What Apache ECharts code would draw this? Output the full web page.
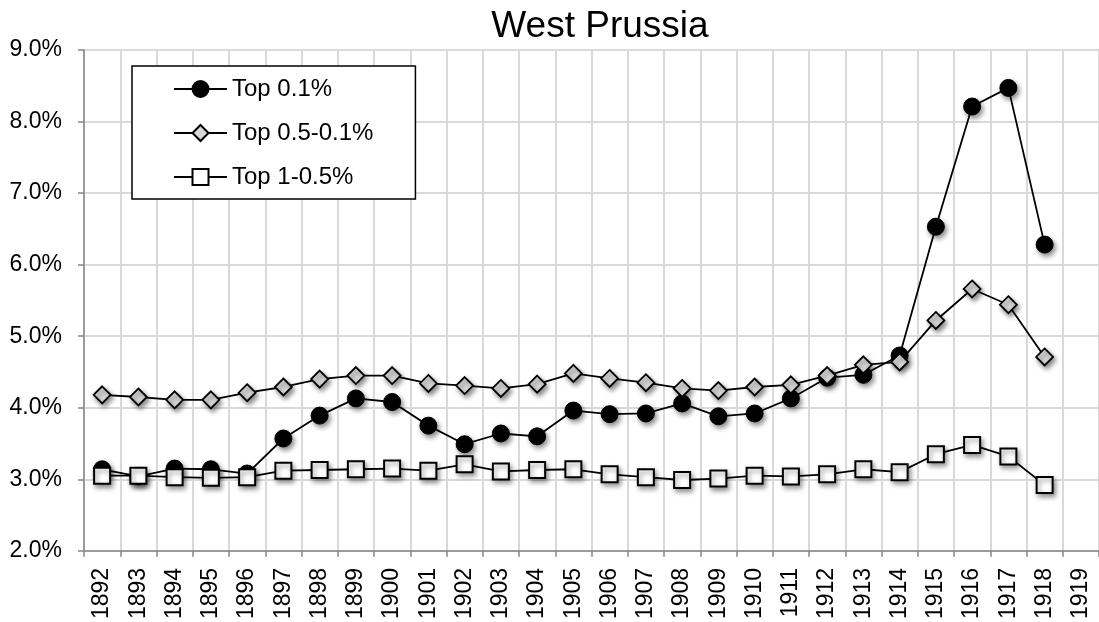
<!DOCTYPE html>
<html>
<head>
<meta charset="utf-8">
<script src="https://cdn.jsdelivr.net/npm/echarts@6/dist/echarts.min.js"></script>
<style>
html,body{margin:0;padding:0;background:#fff;}
#chart{width:1099px;height:622px;}
</style>
</head>
<body>
<div id="chart"></div>
<script>
const years = ['1892','1893','1894','1895','1896','1897','1898','1899','1900','1901','1902','1903','1904','1905','1906','1907','1908','1909','1910','1911','1912','1913','1914','1915','1916','1917','1918','1919'];
const top01 = [3.14, 3.04, 3.15, 3.14, 3.08, 3.57, 3.89, 4.13, 4.08, 3.75, 3.49, 3.64, 3.60, 3.96, 3.91, 3.92, 4.06, 3.88, 3.92, 4.13, 4.42, 4.46, 4.73, 6.53, 8.21, 8.47, 6.28, null];
const top05_01 = [4.18, 4.15, 4.11, 4.11, 4.21, 4.29, 4.40, 4.45, 4.45, 4.34, 4.31, 4.27, 4.33, 4.48, 4.41, 4.35, 4.27, 4.24, 4.29, 4.32, 4.45, 4.60, 4.64, 5.22, 5.66, 5.44, 4.71, null];
const top1_05 = [3.05, 3.05, 3.03, 3.02, 3.03, 3.12, 3.13, 3.14, 3.15, 3.12, 3.21, 3.11, 3.13, 3.14, 3.07, 3.03, 2.99, 3.01, 3.05, 3.04, 3.07, 3.14, 3.10, 3.35, 3.48, 3.32, 2.92, null];
const seriesNames = ['Top 0.1%', 'Top 0.5-0.1%', 'Top 1-0.5%'];
const yTicks = [2, 3, 4, 5, 6, 7, 8, 9];

const FONT = '"Liberation Sans", Arial, sans-serif';
const shadow = {shadowColor: 'rgba(0,0,0,0.45)', shadowBlur: 5, shadowOffsetX: 2, shadowOffsetY: 3};

const chart = echarts.init(document.getElementById('chart'), null, {renderer: 'canvas'});
chart.setOption({
  animation: false,
  backgroundColor: '#ffffff',
  title: {
    text: 'West Prussia',
    left: 595, top: 3, textAlign: 'center',
    textStyle: {fontFamily: FONT, fontSize: 37, fontWeight: 'normal', color: '#000'}
  },
  grid: {left: 84, right: -4, top: 50, bottom: 69, containLabel: false},
  legend: {
    orient: 'vertical',
    left: 132, top: 66,
    padding: [11, 42, 10, 41],
    borderColor: '#000', borderWidth: 1.5,
    backgroundColor: '#fff',
    itemWidth: 53, itemHeight: 20, itemGap: 20,
    textStyle: {fontFamily: FONT, fontSize: 24, color: '#000', lineHeight: 24},
    itemStyle: {shadowBlur: 0, shadowOffsetX: 0, shadowOffsetY: 0, shadowColor: 'transparent'},
    data: seriesNames
  },
  xAxis: {
    type: 'category',
    data: years,
    boundaryGap: true,
    axisLine: {lineStyle: {color: '#868686', width: 1.5}},
    axisTick: {show: true, interval: 0, length: 6, lineStyle: {color: '#868686', width: 1.5}},
    splitLine: {show: true, interval: 0, lineStyle: {color: '#d9d9d9', width: 2}},
    axisLabel: {interval: 0, rotate: 90, margin: 17, fontFamily: FONT, fontSize: 23, color: '#000'}
  },
  yAxis: {
    type: 'value',
    min: yTicks[0], max: yTicks[yTicks.length - 1], interval: 1,
    axisLine: {show: true, lineStyle: {color: '#868686', width: 1.5}},
    axisTick: {show: true, length: 6, lineStyle: {color: '#868686', width: 1.5}},
    splitLine: {show: true, lineStyle: {color: '#d9d9d9', width: 2}},
    axisLabel: {margin: 22, fontFamily: FONT, fontSize: 23, color: '#000',
      formatter: v => v.toFixed(1) + '%'}
  },
  series: [
    {
      name: seriesNames[0], type: 'line', data: top01,
      symbol: 'circle', symbolSize: 17,
      lineStyle: {color: '#000', width: 1.8},
      itemStyle: Object.assign({color: '#000', borderColor: '#000', borderWidth: 1}, shadow),
      z: 2
    },
    {
      name: seriesNames[1], type: 'line', data: top05_01,
      symbol: 'diamond', symbolSize: 17,
      lineStyle: {color: '#000', width: 1.8},
      itemStyle: Object.assign({color: '#d9d9d9', borderColor: '#000', borderWidth: 1.8}, shadow),
      z: 3
    },
    {
      name: seriesNames[2], type: 'line', data: top1_05,
      symbol: 'rect', symbolSize: 16,
      lineStyle: {color: '#000', width: 1.8},
      itemStyle: Object.assign({color: '#fff', borderColor: '#000', borderWidth: 2}, shadow),
      z: 4
    }
  ]
});
</script>
</body>
</html>
